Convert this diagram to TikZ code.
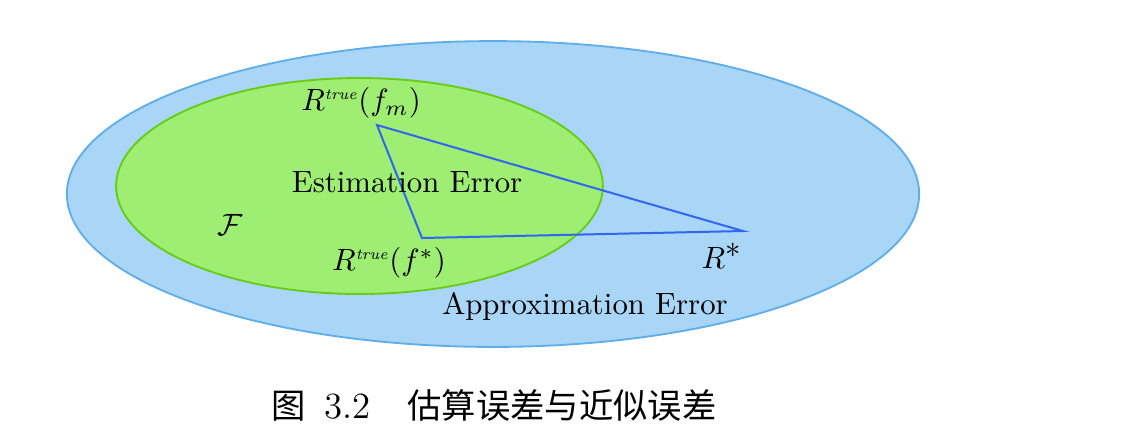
\documentclass[tikz,border=0pt]{standalone}
\usepackage{fontspec}
\newfontfamily\cjk{Noto Sans CJK SC}[Scale=0.93]
\definecolor{setblue}{HTML}{A9D5F6}
\definecolor{setblueline}{HTML}{5FAEEA}
\definecolor{setgreen}{HTML}{9DEE72}
\definecolor{setgreenline}{HTML}{66CC14}
\definecolor{errline}{HTML}{3366F0}
\newcommand{\rtrue}{R^{\mbox{\tiny\itshape true}}}
\tikzset{
  region/.style={line width=0.6pt},
  errtri/.style={draw=errline, line width=0.65pt}
}
\begin{document}
\begin{tikzpicture}[x=0.325pt,y=-0.325pt]
\useasboundingbox (0,0) rectangle (1123,435);
% 大椭圆 (全部函数)
\draw[region, fill=setblue, draw=setblueline] (493,194) ellipse [x radius=138.5pt, y radius=49.7pt];
% 小椭圆 (假设空间 F)
\draw[region, fill=setgreen, draw=setgreenline] (359.5,186) ellipse [x radius=79.1pt, y radius=35.1pt];
% 三角形顶点
\coordinate (fm) at (377,125);
\coordinate (fstar) at (422,238);
\coordinate (rstar) at (743,231);
\draw[errtri] (fm) -- (fstar) -- (rstar) -- cycle;
% 标注
\node (fmlab) at (361,103) {$\rtrue(f_m)$};
\node (fstarlab) at (389,263) {$\rtrue(f^*)$};
\node (rstarlab) at (722,256) {$R^{\textstyle *}$};
\node (hyp) at (230,225) {$\mathcal{F}$};
\node (est) at (407,182) {Estimation Error};
\node (approx) at (585,306) {Approximation Error};
% 图题
\node (cap) at (494,405) {\large{\cjk 图}\hspace{0.5em}3.2\hspace{1em}{\cjk 估算误差与近似误差}};
\end{tikzpicture}
\end{document}
